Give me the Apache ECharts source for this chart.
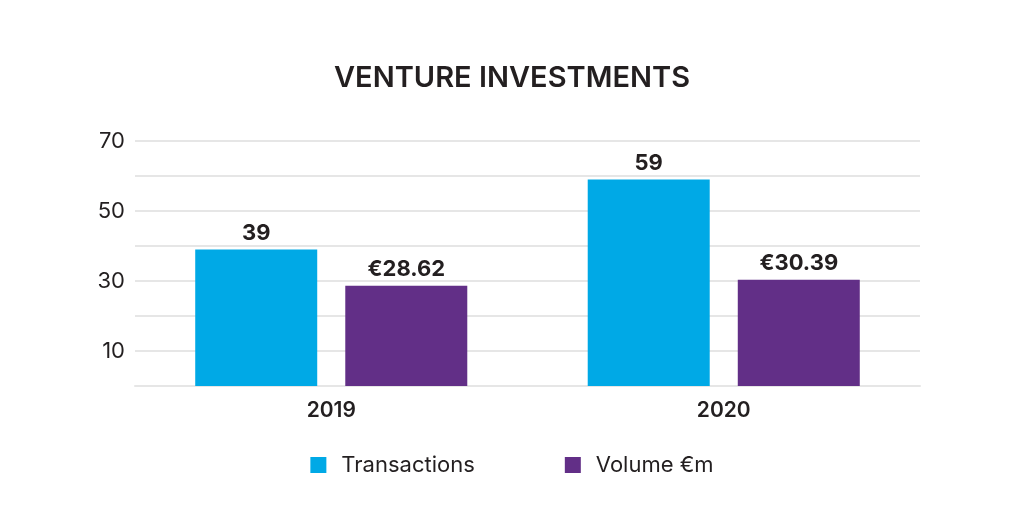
<!DOCTYPE html>
<html><head><meta charset="utf-8">
<script src="https://cdn.jsdelivr.net/npm/echarts@6/dist/echarts.min.js"></script>
<style>html,body{margin:0;padding:0;background:#fff}#c{width:1024px;height:512px}</style>
</head><body><div id="c"></div>
<script>
const categories = ['2019', '2020'];
const transactions = [39, 59];
const volume = [28.62, 30.39];
const seriesNames = ['Transactions', 'Volume €m'];
const shownTicks = [10, 30, 50, 70];

const font = 'Inter, "Open Sans", sans-serif';
const chart = echarts.init(document.getElementById('c'));
chart.setOption({
  animation: false,
  title: {
    text: 'VENTURE INVESTMENTS', left: 'center', top: 59,
    textStyle: { fontFamily: font, fontSize: 29, fontWeight: 600, color: '#231f20' }
  },
  legend: {
    bottom: 31, left: 'center', itemGap: 90, itemWidth: 16, itemHeight: 16, icon: 'rect',
    textStyle: { fontFamily: font, fontSize: 22, color: '#231f20', padding: [0, 0, 0, 10] },
    data: seriesNames
  },
  grid: { left: 135, right: 104, top: 141, bottom: 126 },
  xAxis: {
    type: 'category', data: categories,
    axisLine: { lineStyle: { color: '#e6e6e6', width: 2 } },
    axisTick: { show: false },
    axisLabel: { fontFamily: font, fontSize: 21, fontWeight: 600, color: '#231f20', margin: 14 }
  },
  yAxis: {
    type: 'value', min: 0, max: 70, interval: 10,
    axisLine: { show: false }, axisTick: { show: false },
    splitLine: { lineStyle: { color: '#e6e6e6', width: 2 } },
    axisLabel: {
      fontFamily: font, fontSize: 22, color: '#231f20', margin: 10,
      formatter: v => shownTicks.includes(v) ? String(v) : ''
    }
  },
  series: [
    {
      name: seriesNames[0], type: 'bar', data: transactions, barWidth: 122, barGap: '23%',
      itemStyle: { color: '#00a9e6' },
      label: { show: true, position: 'top', distance: 5, fontFamily: font, fontSize: 22, fontWeight: 700, color: '#231f20' }
    },
    {
      name: seriesNames[1], type: 'bar', data: volume, barWidth: 122,
      itemStyle: { color: '#622f87' },
      label: { show: true, position: 'top', distance: 5, fontFamily: font, fontSize: 22, fontWeight: 700, color: '#231f20',
        formatter: p => '€' + p.value.toFixed(2) }
    }
  ]
});
</script></body></html>
